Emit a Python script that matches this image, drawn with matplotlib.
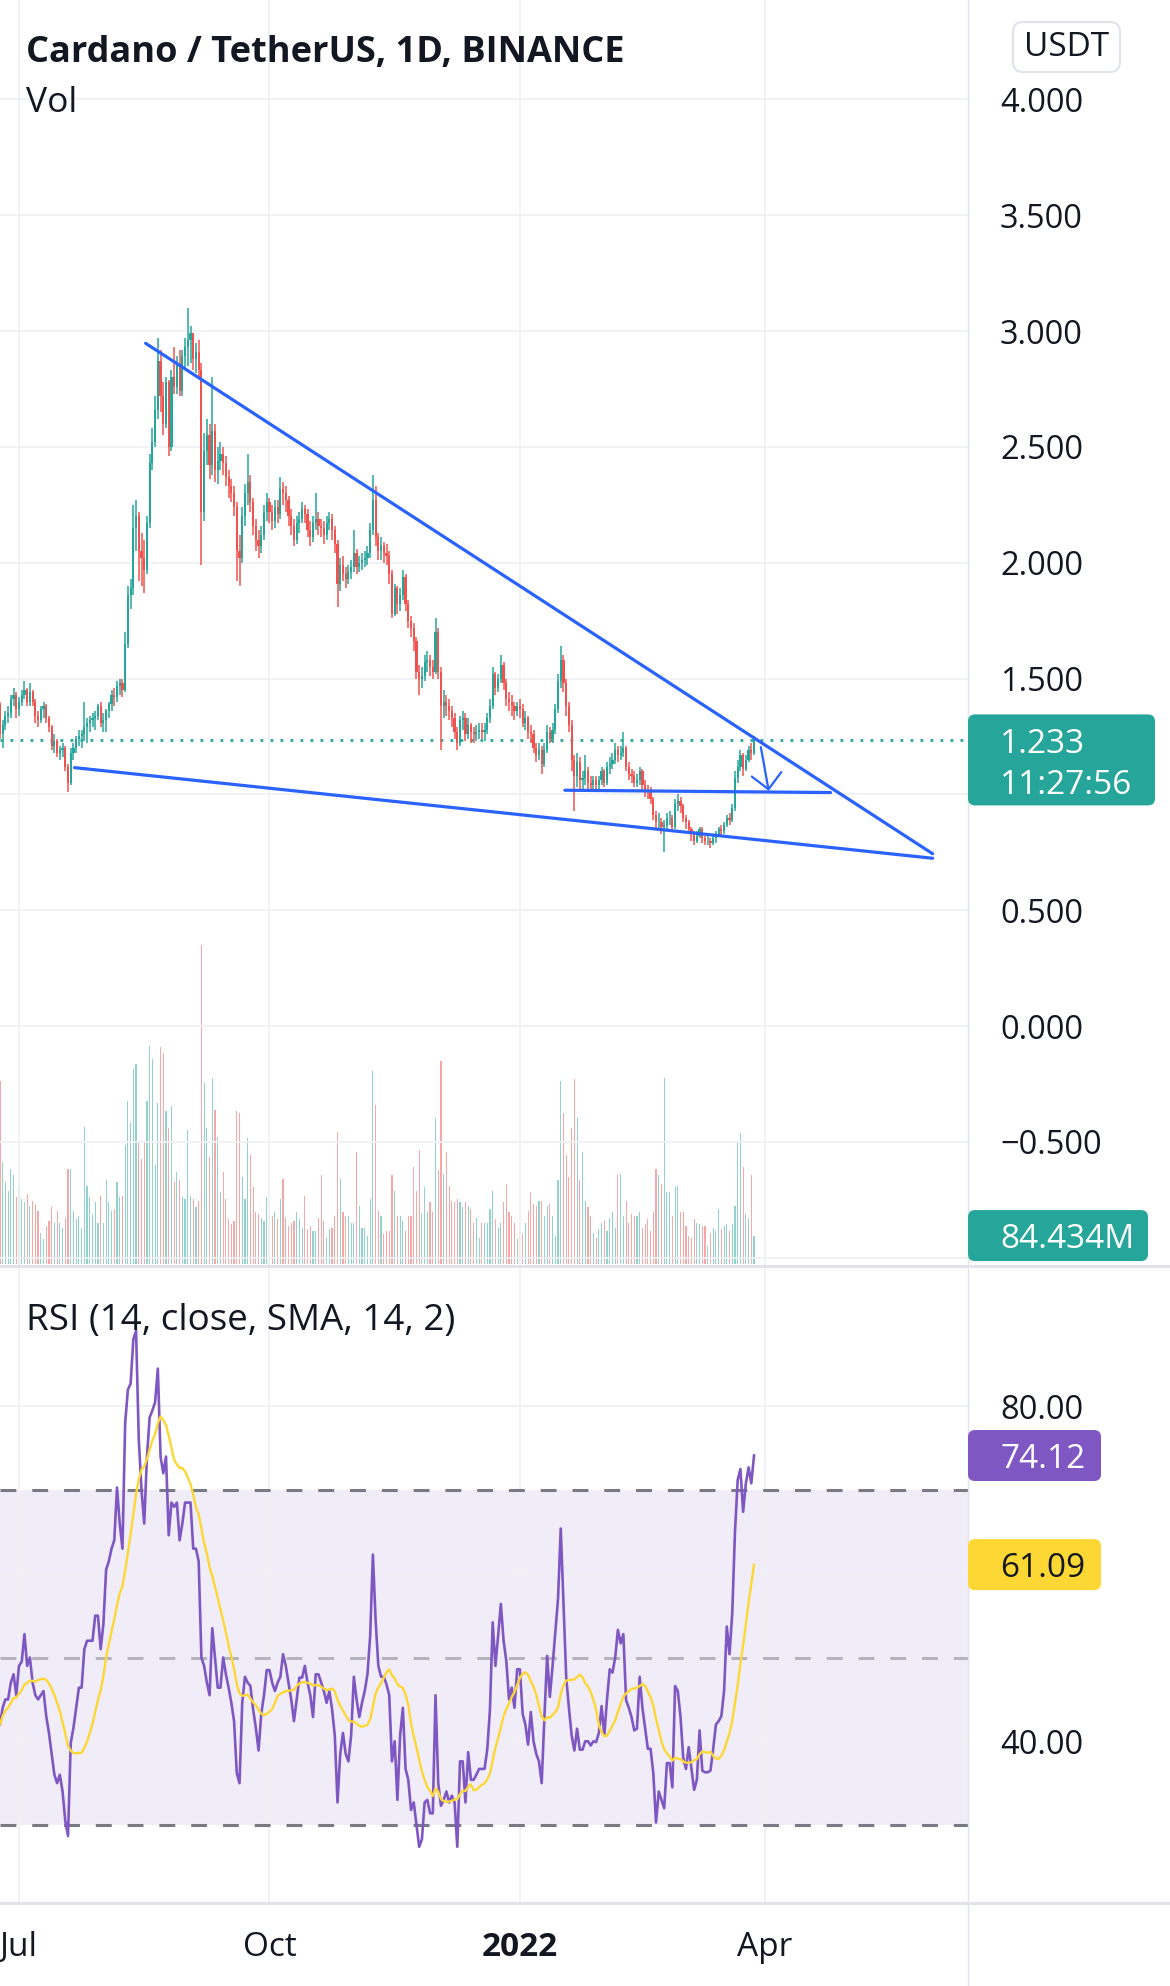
import numpy as np
import pandas as pd
import matplotlib
matplotlib.use("Agg")
import matplotlib.pyplot as plt
import matplotlib.dates as mdates
from matplotlib.patches import FancyBboxPatch
from matplotlib.lines import Line2D
from matplotlib.transforms import IdentityTransform

# ---------------- DATA (ADA/USDT daily) ----------------
start_date = "2021-06-24"
first_open = 1.39

close_jun = [1.26, 1.30, 1.34, 1.35, 1.41, 1.43]
close_jul = [1.37, 1.40, 1.43, 1.45, 1.40, 1.44, 1.40, 1.34, 1.32, 1.37, 1.38, 1.33, 1.29, 1.21, 1.23,
             1.18, 1.19, 1.20, 1.12, 1.05, 1.18, 1.20, 1.24, 1.25, 1.26, 1.29, 1.31, 1.32, 1.33, 1.34, 1.38]
close_aug = [1.31, 1.32, 1.36, 1.39, 1.43, 1.42, 1.47, 1.48, 1.45, 1.65, 1.86, 1.89, 2.15, 2.20, 2.05,
             2.02, 1.97, 2.17, 2.43, 2.52, 2.66, 2.87, 2.72, 2.60, 2.78, 2.50, 2.80, 2.76, 2.85, 2.74, 2.89]
close_sep = [2.93, 2.96, 2.99, 2.88, 2.91, 2.83, 2.22, 2.48, 2.55, 2.42, 2.57, 2.40, 2.44, 2.47, 2.43,
             2.37, 2.33, 2.30, 2.24, 2.05, 2.02, 2.20, 2.30, 2.35, 2.26, 2.16, 2.10, 2.07, 2.12, 2.22]
close_oct = [2.26, 2.22, 2.18, 2.24, 2.21, 2.32, 2.30, 2.27, 2.20, 2.16, 2.10, 2.17, 2.19, 2.23, 2.21,
             2.14, 2.11, 2.17, 2.19, 2.16, 2.15, 2.12, 2.17, 2.19, 2.14, 2.08, 1.91, 1.99, 1.95, 1.93, 1.96]
close_nov = [1.98, 2.04, 1.98, 2.00, 2.01, 2.02, 2.04, 2.14, 2.27, 2.11, 2.05, 2.07, 2.04, 2.03, 1.95,
             1.78, 1.89, 1.82, 1.86, 1.94, 1.82, 1.75, 1.72, 1.66, 1.53, 1.50, 1.51, 1.57, 1.58, 1.55]
close_dec = [1.53, 1.70, 1.53, 1.38, 1.40, 1.38, 1.36, 1.33, 1.27, 1.22, 1.32, 1.33, 1.26, 1.30, 1.27,
             1.26, 1.27, 1.28, 1.27, 1.28, 1.33, 1.38, 1.52, 1.46, 1.50, 1.56, 1.48, 1.41, 1.40, 1.38, 1.36]
close_jan = [1.38, 1.37, 1.31, 1.33, 1.27, 1.26, 1.20, 1.17, 1.19, 1.13, 1.19, 1.27, 1.24, 1.28, 1.37,
             1.49, 1.58, 1.48, 1.38, 1.30, 1.15, 1.08, 1.14, 1.06, 1.07, 1.10, 1.05, 1.04, 1.06, 1.04, 1.06]
close_feb = [1.10, 1.05, 1.12, 1.13, 1.15, 1.19, 1.17, 1.18, 1.20, 1.12, 1.09, 1.08, 1.05, 1.06, 1.10,
             1.04, 1.02, 1.01, 0.98, 0.91, 0.88, 0.88, 0.86, 0.87, 0.90, 0.90, 0.86, 0.96]
close_mar = [0.97, 0.95, 0.90, 0.88, 0.85, 0.83, 0.80, 0.82, 0.85, 0.81, 0.80, 0.80, 0.79, 0.81, 0.83,
             0.85, 0.84, 0.87, 0.90, 0.89, 0.94, 1.07, 1.12, 1.17, 1.11, 1.15, 1.19, 1.18, 1.233]

high_jun = [1.40, 1.32, 1.36, 1.38, 1.43, 1.46]
high_jul = [1.44, 1.42, 1.45, 1.49, 1.46, 1.48, 1.45, 1.41, 1.36, 1.38, 1.40, 1.39, 1.34, 1.30, 1.26,
            1.24, 1.21, 1.22, 1.21, 1.13, 1.20, 1.22, 1.25, 1.28, 1.28, 1.40, 1.33, 1.34, 1.35, 1.36, 1.39]
high_aug = [1.40, 1.35, 1.37, 1.40, 1.45, 1.46, 1.49, 1.50, 1.50, 1.70, 1.90, 1.93, 2.25, 2.27, 2.22,
            2.13, 2.10, 2.20, 2.47, 2.58, 2.72, 2.97, 2.92, 2.78, 2.80, 2.79, 2.83, 2.93, 2.89, 2.92, 2.92]
high_sep = [2.97, 3.10, 3.02, 2.99, 2.95, 2.96, 2.86, 2.56, 2.62, 2.60, 2.80, 2.60, 2.50, 2.52, 2.50,
            2.46, 2.40, 2.36, 2.33, 2.26, 2.12, 2.24, 2.34, 2.47, 2.38, 2.28, 2.19, 2.14, 2.16, 2.25]
high_oct = [2.30, 2.28, 2.25, 2.27, 2.27, 2.37, 2.35, 2.33, 2.29, 2.23, 2.19, 2.20, 2.22, 2.26, 2.25,
            2.23, 2.18, 2.20, 2.30, 2.22, 2.19, 2.18, 2.20, 2.22, 2.21, 2.16, 2.10, 2.02, 2.03, 1.98, 1.99]
high_nov = [2.01, 2.14, 2.06, 2.03, 2.04, 2.05, 2.07, 2.17, 2.38, 2.33, 2.13, 2.11, 2.09, 2.08, 2.05,
            1.97, 1.91, 1.90, 1.89, 1.97, 1.95, 1.84, 1.77, 1.74, 1.68, 1.56, 1.55, 1.60, 1.62, 1.60]
high_dec = [1.58, 1.76, 1.72, 1.55, 1.45, 1.43, 1.41, 1.38, 1.35, 1.29, 1.34, 1.36, 1.35, 1.33, 1.31,
            1.29, 1.30, 1.31, 1.31, 1.31, 1.35, 1.41, 1.55, 1.53, 1.52, 1.60, 1.57, 1.50, 1.44, 1.43, 1.40]
high_jan = [1.40, 1.41, 1.39, 1.36, 1.34, 1.30, 1.28, 1.22, 1.22, 1.21, 1.22, 1.30, 1.29, 1.31, 1.39,
            1.52, 1.64, 1.60, 1.50, 1.40, 1.32, 1.17, 1.18, 1.16, 1.10, 1.17, 1.12, 1.08, 1.08, 1.08, 1.08]
high_feb = [1.12, 1.11, 1.14, 1.16, 1.18, 1.22, 1.21, 1.21, 1.27, 1.21, 1.14, 1.11, 1.10, 1.09, 1.12,
            1.11, 1.06, 1.04, 1.03, 0.99, 0.93, 0.92, 0.90, 0.89, 0.92, 0.93, 0.91, 0.98]
high_mar = [1.00, 0.99, 0.96, 0.91, 0.89, 0.86, 0.84, 0.84, 0.86, 0.86, 0.82, 0.82, 0.81, 0.82, 0.84,
            0.86, 0.87, 0.88, 0.91, 0.92, 0.96, 1.10, 1.15, 1.19, 1.18, 1.17, 1.21, 1.22, 1.25]

low_jun = [1.24, 1.20, 1.28, 1.31, 1.33, 1.38]
low_jul = [1.33, 1.34, 1.38, 1.41, 1.38, 1.38, 1.38, 1.31, 1.29, 1.31, 1.33, 1.31, 1.27, 1.19, 1.18,
           1.16, 1.15, 1.16, 1.10, 1.01, 1.04, 1.15, 1.18, 1.21, 1.20, 1.23, 1.22, 1.27, 1.29, 1.28, 1.32]
low_aug = [1.29, 1.27, 1.27, 1.33, 1.36, 1.38, 1.40, 1.43, 1.42, 1.44, 1.63, 1.80, 1.86, 2.05, 1.92,
           1.90, 1.87, 1.95, 2.15, 2.40, 2.50, 2.62, 2.65, 2.55, 2.58, 2.46, 2.48, 2.73, 2.73, 2.72, 2.72]
low_sep = [2.84, 2.85, 2.86, 2.83, 2.82, 2.80, 1.99, 2.18, 2.42, 2.36, 2.38, 2.35, 2.34, 2.40, 2.38,
           2.33, 2.28, 2.26, 2.20, 1.92, 1.90, 2.00, 2.16, 2.25, 2.22, 2.12, 2.05, 2.02, 2.04, 2.10]
low_oct = [2.18, 2.17, 2.14, 2.15, 2.17, 2.19, 2.25, 2.22, 2.16, 2.12, 2.07, 2.08, 2.13, 2.17, 2.17,
           2.11, 2.07, 2.09, 2.14, 2.12, 2.11, 2.08, 2.10, 2.14, 2.10, 2.04, 1.81, 1.88, 1.92, 1.89, 1.91]
low_nov = [1.93, 1.96, 1.95, 1.96, 1.97, 1.98, 1.99, 2.02, 2.12, 2.07, 2.01, 2.01, 2.00, 1.99, 1.91,
           1.76, 1.77, 1.78, 1.79, 1.84, 1.79, 1.72, 1.68, 1.62, 1.50, 1.43, 1.46, 1.49, 1.53, 1.51]
low_dec = [1.50, 1.52, 1.50, 1.19, 1.33, 1.34, 1.32, 1.29, 1.24, 1.19, 1.21, 1.28, 1.23, 1.24, 1.22,
           1.22, 1.23, 1.24, 1.24, 1.23, 1.26, 1.31, 1.37, 1.43, 1.44, 1.48, 1.45, 1.38, 1.36, 1.34, 1.32]
low_jan = [1.34, 1.33, 1.29, 1.28, 1.24, 1.22, 1.18, 1.14, 1.15, 1.09, 1.12, 1.18, 1.22, 1.22, 1.26,
           1.35, 1.46, 1.44, 1.34, 1.27, 1.10, 0.93, 1.03, 1.02, 1.02, 1.04, 1.02, 1.01, 1.02, 1.01, 1.02]
low_feb = [1.04, 1.03, 1.04, 1.09, 1.11, 1.13, 1.14, 1.15, 1.16, 1.10, 1.06, 1.05, 1.03, 1.03, 1.04,
           1.02, 0.99, 0.98, 0.96, 0.89, 0.85, 0.85, 0.83, 0.75, 0.85, 0.87, 0.84, 0.85]
low_mar = [0.93, 0.92, 0.88, 0.85, 0.83, 0.80, 0.78, 0.79, 0.81, 0.79, 0.78, 0.78, 0.77, 0.78, 0.79,
           0.82, 0.82, 0.83, 0.86, 0.87, 0.88, 0.93, 1.05, 1.10, 1.08, 1.10, 1.14, 1.15, 1.17]

# volume in millions
volume_m = [543, 303, 243, 218, 283, 263, 198, 233, 193, 183,
            208, 173, 188, 178, 158, 93, 73, 113, 128, 168,
            123, 158, 123, 108, 138, 283, 283, 158, 133, 143,
            108, 408, 233, 198, 148, 183, 123, 203, 123, 248,
            183, 158, 163, 243, 198, 203, 353, 483, 423, 578,
            593, 363, 313, 363, 483, 648, 608, 293, 478, 643,
            628, 453, 403, 468, 243, 273, 248, 198, 193, 398,
            203, 193, 168, 188, 948, 538, 403, 318, 553, 458,
            378, 213, 273, 193, 133, 118, 128, 453, 448, 258,
            193, 373, 323, 228, 153, 148, 138, 128, 198, 148,
            143, 153, 133, 193, 253, 138, 113, 123, 128, 153,
            133, 108, 203, 103, 113, 98, 98, 138, 263, 128,
            78, 103, 108, 143, 393, 253, 153, 143, 143, 123,
            123, 333, 173, 108, 108, 83, 193, 573, 473, 158,
            143, 88, 98, 98, 263, 218, 143, 143, 128, 98,
            143, 143, 288, 218, 338, 148, 228, 153, 183, 153,
            433, 278, 603, 268, 333, 233, 188, 183, 193, 183,
            168, 183, 173, 163, 123, 138, 78, 123, 123, 123,
            163, 218, 133, 108, 123, 183, 238, 153, 143, 123,
            73, 98, 88, 123, 158, 213, 178, 173, 188, 188,
            143, 173, 178, 143, 83, 248, 543, 448, 323, 258,
            403, 548, 433, 248, 333, 188, 168, 143, 93, 78,
            103, 123, 128, 98, 138, 153, 108, 263, 268, 143,
            188, 123, 148, 143, 143, 153, 108, 118, 133, 98,
            153, 283, 263, 238, 553, 213, 213, 143, 228, 233,
            153, 153, 113, 83, 78, 133, 123, 118, 113, 113,
            53, 93, 108, 98, 163, 103, 113, 118, 98, 118,
            173, 363, 388, 288, 148, 138, 263, 84.434]

rsi_jun = [42, 44, 45, 45, 47, 48]
rsi_jul = [45.5, 49, 49.5, 52.8, 49, 50, 47, 45.5, 45, 45.5, 46, 43, 41, 38.5, 36, 35, 36, 34, 30.5, 28.7,
           39.8, 41.6, 44, 46.4, 46.4, 51, 52, 52, 52, 55, 55]
rsi_aug = [51, 54, 60.5, 61.5, 63, 64, 70.3, 66, 63, 78, 82, 82.7, 88, 89, 76, 70, 66, 74, 78.7, 79.5,
           80.5, 84.5, 74, 72, 74, 64.6, 68.5, 68, 68.5, 64, 66]
rsi_sep = [68.5, 68.5, 68.5, 63, 63, 61.5, 50, 49, 47, 45.5, 53.5, 50, 46.4, 46.4, 50, 48, 46.4, 44.6,
           42.4, 36.2, 35, 44.6, 47.7, 47, 46.6, 43.8, 41.6, 38.9, 43.3, 45.5]
rsi_oct = [48.5, 48.5, 47, 46, 47, 47.7, 50.4, 49, 47, 45, 42.4, 45, 47.6, 47.6, 49, 47, 45.5, 42.9,
           48, 48, 47, 46, 44.6, 46, 43.8, 40.7, 32.7, 38.5, 41, 38.5, 37.6]
rsi_nov = [40.7, 47.7, 45, 42.9, 44.6, 46, 48, 52.6, 62.3, 54.4, 49, 47.7, 47.7, 46.8, 45.5, 37.6, 40,
           33, 40.7, 44, 36.7, 35.4, 31.8, 32.7, 30, 27.4, 28.3, 32.7, 33, 31.4]
rsi_dec = [31.4, 45.5, 35, 32.3, 33, 34, 32.7, 33.5, 32.7, 27.4, 37.6, 37.6, 32.7, 38.7, 35.4, 35.4,
           36, 36.7, 36.7, 36.7, 39, 43.8, 54.2, 49, 52.6, 56.4, 52, 49.6, 45, 46.4, 44]
rsi_jan = [48.6, 48.6, 43.3, 42, 39.6, 43.5, 40, 38.5, 37.6, 35, 42.9, 50.2, 45.3, 49, 53, 57, 65.4,
           56.6, 47.7, 44, 40.7, 38.9, 41.5, 39, 39, 40, 40, 39.5, 40, 39.9, 41]
rsi_feb = [44.2, 40.7, 45, 48.6, 48.2, 50, 53.3, 51.7, 52.8, 44.9, 44, 42.9, 41.3, 41.5, 47.7, 44,
           41.5, 39.1, 39.1, 36.2, 30.3, 34, 33, 32, 37.4, 37.4, 34.5, 46.6]
rsi_mar = [46, 42.9, 38, 36.7, 39.3, 36.7, 34.2, 35.4, 41.3, 36.5, 36.3, 36.3, 36.5, 39.1, 42, 42.4,
           43, 46, 53.7, 50.4, 55.3, 65, 71.2, 72.5, 67.4, 70.8, 72.7, 70.8, 74.12]

# drawings (days counted from 2021-07-01, prices)
upper_line_days = [46.5, 335.6]
upper_line_price = [2.947, 0.744]
lower_line_days = [20.4, 335.6]
lower_line_price = [1.1155, 0.7244]
support_days = [200.5, 298.1]
support_price = [1.018, 1.008]
arrow_shaft_days = [272.5, 275.3]
arrow_shaft_price = [1.204, 1.022]
arrow_head_days = [269.2, 275.3, 280.0]
arrow_head_price = [1.077, 1.022, 1.096]

price_ticks = [-1.0, -0.5, 0.0, 0.5, 1.0, 1.5, 2.0, 2.5, 3.0, 3.5, 4.0]
rsi_ticks = [40, 60, 80]
time_ticks = ["2021-07-01", "2021-10-01", "2022-01-01", "2022-04-01"]
time_labels = ["Jul", "Oct", "2022", "Apr"]
countdown = "11:27:56"
title = "Cardano / TetherUS, 1D, BINANCE"

# ---------------- assemble ----------------
close = np.array(close_jun + close_jul + close_aug + close_sep + close_oct + close_nov + close_dec
                 + close_jan + close_feb + close_mar)
high = np.array(high_jun + high_jul + high_aug + high_sep + high_oct + high_nov + high_dec
                + high_jan + high_feb + high_mar)
low = np.array(low_jun + low_jul + low_aug + low_sep + low_oct + low_nov + low_dec
               + low_jan + low_feb + low_mar)
rsi = np.array(rsi_jun + rsi_jul + rsi_aug + rsi_sep + rsi_oct + rsi_nov + rsi_dec
               + rsi_jan + rsi_feb + rsi_mar)
vol = np.array(volume_m, dtype=float)
open_ = np.concatenate([[first_open], close[:-1]])
sma = pd.Series(rsi).rolling(14, min_periods=1).mean().values

dates = pd.date_range(start_date, periods=len(close), freq="D")
x = mdates.date2num(dates.to_pydatetime())
ref = mdates.date2num(pd.Timestamp("2021-07-01").to_pydatetime())

# ---------------- style ----------------
plt.rcParams['font.family'] = ['Open Sans', 'DejaVu Sans']
UP, DN = '#26A69A', '#EF5350'
BLUE = '#2962FF'
TXT = '#131722'
GRID = '#F0F1F4'
SEP = '#E0E3EB'
PURPLE = '#7E57C2'
YELLOW = '#FDD835'

W, H = 1170, 1986
PR = 968
fig = plt.figure(figsize=(W / 100, H / 100), dpi=100, facecolor='white')
rect_price = [0, 1 - 1266 / H, PR / W, 1266 / H]
rect_rsi = [0, 1 - 1903 / H, PR / W, (1903 - 1266) / H]
ax_vol = fig.add_axes(rect_price)
ax = fig.add_axes(rect_price, sharex=ax_vol)
ax_rsi = fig.add_axes(rect_rsi, sharex=ax_vol)

ax.set_xlim(ref - 6.98, ref + 348.6)
ax.set_ylim(-1.0354, 4.4286)
ax_vol.set_ylim(-5.94, 3754)
ax_rsi.set_ylim(20.69, 96.75)

up = close >= open_
cols = np.where(up, UP, DN)

# volume
ax_vol.bar(x, vol, width=0.42, color=cols, alpha=0.5, linewidth=0)
ax_vol.set_axis_off()

# price pane
ax.patch.set_visible(False)
for s in ax.spines.values():
    s.set_visible(False)
ax.set_axisbelow(True)
ax.grid(True, color=GRID, lw=1.3)
ax.axhline(close[-1], color=UP, lw=2.0, linestyle=(0, (1, 2.6)), zorder=1.5)
ax.vlines(x, low, high, colors=cols, lw=1.1, zorder=2)
ax.bar(x, np.abs(close - open_), bottom=np.minimum(open_, close), width=0.8,
       color=cols, linewidth=0, zorder=3)

ax.plot(ref + np.array(upper_line_days), upper_line_price, color=BLUE, lw=2.3,
        solid_capstyle='round', zorder=4)
ax.plot(ref + np.array(lower_line_days), lower_line_price, color=BLUE, lw=2.3,
        solid_capstyle='round', zorder=4)
ax.plot(ref + np.array(support_days), support_price, color=BLUE, lw=2.3,
        solid_capstyle='round', zorder=4)
ax.plot(ref + np.array(arrow_shaft_days), arrow_shaft_price, color=BLUE, lw=1.6,
        solid_capstyle='round', zorder=4)
ax.plot(ref + np.array(arrow_head_days), arrow_head_price, color=BLUE, lw=1.6,
        solid_capstyle='round', solid_joinstyle='round', zorder=4)

def fmt_price(v):
    if abs(v - 1.0) < 1e-9 or abs(v + 1.0) < 1e-9:
        return ''
    return f"{v:.3f}".replace('-', '\u2212')

ax.set_yticks(price_ticks)
ax.set_yticklabels([fmt_price(v) for v in price_ticks])
ax.yaxis.tick_right()
ax.tick_params(axis='y', length=0, pad=23, labelsize=23.5, labelcolor=TXT)
ax.tick_params(axis='x', length=0, labelbottom=False)

tick_x = [mdates.date2num(pd.Timestamp(t).to_pydatetime()) for t in time_ticks]

# RSI pane
for s in ax_rsi.spines.values():
    s.set_visible(False)
ax_rsi.set_axisbelow(True)
ax_rsi.axhspan(30, 70, color=PURPLE, alpha=0.1, lw=0, zorder=0.5)
ax_rsi.grid(True, color=GRID, lw=1.3)
ax_rsi.axhline(70, color='#787B86', lw=2.2, linestyle=(0, (5.2, 5.2)), zorder=1)
ax_rsi.axhline(50, color='#787B86', alpha=0.5, lw=2.2, linestyle=(0, (5.2, 5.2)), zorder=1)
ax_rsi.axhline(30, color='#787B86', lw=2.2, linestyle=(0, (5.2, 5.2)), zorder=1)
ax_rsi.plot(x, rsi, color=PURPLE, lw=1.9, zorder=3)
ax_rsi.plot(x, sma, color=YELLOW, lw=1.7, zorder=4)
ax_rsi.set_yticks(rsi_ticks)
ax_rsi.set_yticklabels(['40.00', '', '80.00'])
ax_rsi.yaxis.tick_right()
ax_rsi.tick_params(axis='y', length=0, pad=23, labelsize=23.5, labelcolor=TXT)

ax_rsi.set_xticks(tick_x)
ax_rsi.set_xticklabels(time_labels)
ax_rsi.tick_params(axis='x', length=0, pad=20, labelsize=24, labelcolor=TXT)
ax_rsi.get_xticklabels()[2].set_fontweight('bold')
ax.set_xlim(ref - 6.98, ref + 348.6)

# ---------------- overlays ----------------
ident = IdentityTransform()
for yy in (H - 1266, H - 1903):
    fig.add_artist(Line2D([0, W], [yy, yy], color=SEP, lw=2.2, transform=ident))
fig.add_artist(Line2D([PR, PR], [0, H], color=SEP, lw=1.0, transform=ident))

fig.text(26 / W, 1 - 62 / H, title, fontsize=26, fontweight='bold', color=TXT, va='baseline')
fig.text(26 / W, 1 - 112 / H, 'Vol', fontsize=25.5, color=TXT, va='baseline')
fig.text(26 / W, 1 - 1330 / H, 'RSI (14, close, SMA, 14, 2)', fontsize=26.5, color=TXT,
         va='baseline')

# currency box
fig.add_artist(FancyBboxPatch((1013, H - 72), 107, 50, boxstyle='round,pad=0,rounding_size=10',
                              transform=ident, fc='white', ec=SEP, lw=1.5))
fig.text(1066.5 / W, (H - 47) / H, 'USDT', fontsize=24, color=TXT, ha='center', va='center')


def ypx(axis, v):
    return axis.transData.transform((axis.get_xlim()[0], v))[1]


def tag(yc, w, h, top_off, fc, lines, tc, fs=24):
    y0 = yc + top_off - h
    fig.add_artist(FancyBboxPatch((PR, y0), w, h, boxstyle='round,pad=0,rounding_size=7',
                                  transform=ident, fc=fc, ec='none', zorder=10))
    for i, s in enumerate(lines):
        fig.text(1000 / W, (yc - i * 41) / H, s, color=tc, fontsize=fs,
                 ha='left', va='center_baseline', zorder=11)


tag(ypx(ax, close[-1]), 187, 91, 26, UP, [f"{close[-1]:.3f}", countdown], 'white')
tag(ypx(ax_vol, vol[-1]), 180, 51, 25.5, UP, [f"{vol[-1]:.3f}M"], 'white')
tag(ypx(ax_rsi, rsi[-1]), 133, 51, 25.5, PURPLE, [f"{rsi[-1]:.2f}"], 'white')
tag(ypx(ax_rsi, sma[-1]), 133, 51, 25.5, YELLOW, [f"{sma[-1]:.2f}"], TXT)

fig.savefig('out.png', dpi=100, facecolor='white')
